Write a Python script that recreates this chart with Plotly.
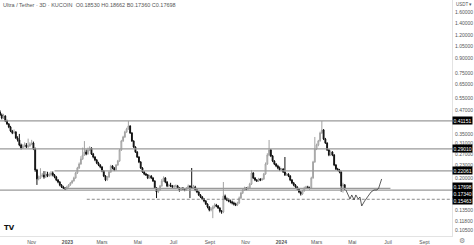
import math
import pandas as pd
import plotly.graph_objects as go

# ---------------- data ----------------
first_date = "2022-09-08"
open_first = 0.4600
closes = [
    0.4435, 0.4272, 0.4380, 0.4115, 0.3963, 0.3817, 0.3631, 0.3541, 0.3586, 0.3327,
    0.3245, 0.3048, 0.2936, 0.3010, 0.3048, 0.2973, 0.3010, 0.3086, 0.3125, 0.2899,
    0.2230, 0.1993, 0.2018, 0.2069, 0.2095, 0.2043, 0.2121, 0.2069, 0.2095, 0.2148,
    0.2095, 0.2043, 0.1968, 0.1919, 0.1849, 0.1803, 0.1781, 0.1759, 0.1803, 0.1849,
    0.1896, 0.1944, 0.2018, 0.2148, 0.2286, 0.2403, 0.2559, 0.2690, 0.2793, 0.2724,
    0.2863, 0.2936, 0.2724, 0.2623, 0.2527, 0.2434, 0.2374, 0.2315, 0.2202, 0.2069,
    0.1968, 0.2043, 0.2175, 0.2344, 0.2286, 0.2230, 0.2374, 0.2495, 0.2863, 0.3204,
    0.3369, 0.3586, 0.3723, 0.3865, 0.3541, 0.3204, 0.2973, 0.2793, 0.2623, 0.2464,
    0.2286, 0.2175, 0.2121, 0.2095, 0.2018, 0.2069, 0.2018, 0.1944, 0.1781, 0.1694,
    0.1737, 0.1826, 0.1944, 0.2018, 0.1919, 0.1826, 0.1849, 0.1826, 0.1803, 0.1826,
    0.1826, 0.1781, 0.1737, 0.1781, 0.1759, 0.1737, 0.1781, 0.1826, 0.1803, 0.1781,
    0.1803, 0.1737, 0.1694, 0.1632, 0.1591, 0.1552, 0.1514, 0.1458, 0.1404, 0.1353,
    0.1370, 0.1404, 0.1440, 0.1422, 0.1387, 0.1336, 0.1319, 0.1611, 0.1552, 0.1533,
    0.1514, 0.1495, 0.1476, 0.1458, 0.1440, 0.1476, 0.1572, 0.1673, 0.1737, 0.1781,
    0.1759, 0.1781, 0.1872, 0.2148, 0.2018, 0.1968, 0.1944, 0.1993, 0.1968, 0.1993,
    0.2121, 0.2403, 0.2690, 0.2863, 0.2656, 0.2495, 0.2403, 0.2344, 0.2286, 0.2230,
    0.2258, 0.2175, 0.2095, 0.2121, 0.2069, 0.1968, 0.1896, 0.1849, 0.1803, 0.1759,
    0.1694, 0.1652, 0.1715, 0.1781, 0.1803, 0.1781, 0.1781, 0.2018, 0.2464, 0.2899,
    0.3048, 0.3204, 0.3541, 0.3677, 0.3285, 0.3125, 0.2863, 0.2690, 0.2793, 0.2690,
    0.2374, 0.2258, 0.2230, 0.2175, 0.1826, 0.1853, 0.17698,
]
highs = [
    0.4700, 0.4520, 0.4500, 0.4420, 0.4180, 0.4010, 0.3870, 0.3680, 0.3700, 0.3620,
    0.3400, 0.3500, 0.3100, 0.3080, 0.3150, 0.3120, 0.3300, 0.3150, 0.3250, 0.3180,
    0.2950, 0.2260, 0.2080, 0.2280, 0.2150, 0.2200, 0.2200, 0.2180, 0.2160, 0.2200,
    0.2190, 0.2120, 0.2070, 0.1990, 0.1940, 0.1870, 0.1830, 0.1800, 0.1830, 0.1870,
    0.1920, 0.1970, 0.2050, 0.2180, 0.2320, 0.2450, 0.2650, 0.2950, 0.3200, 0.2880,
    0.2950, 0.3000, 0.2960, 0.2760, 0.2650, 0.2560, 0.2470, 0.2400, 0.2340, 0.2230,
    0.2090, 0.2070, 0.2200, 0.2380, 0.2370, 0.2310, 0.2400, 0.2530, 0.2900, 0.3250,
    0.3420, 0.3640, 0.3780, 0.4115, 0.3900, 0.3580, 0.3230, 0.3000, 0.2820, 0.2650,
    0.2490, 0.2310, 0.2200, 0.2150, 0.2120, 0.2100, 0.2090, 0.2040, 0.1960, 0.1800,
    0.1770, 0.1850, 0.1990, 0.2060, 0.2040, 0.1940, 0.1880, 0.1900, 0.1850, 0.1850,
    0.1860, 0.1850, 0.1800, 0.1800, 0.1800, 0.1780, 0.1800, 0.1860, 0.1840, 0.2286,
    0.1850, 0.1830, 0.1760, 0.1710, 0.1650, 0.1610, 0.1570, 0.1530, 0.1470, 0.1420,
    0.1400, 0.1430, 0.1470, 0.1460, 0.1440, 0.1400, 0.1350, 0.1919, 0.1640, 0.1580,
    0.1560, 0.1540, 0.1520, 0.1500, 0.1480, 0.1500, 0.1600, 0.1700, 0.1770, 0.1810,
    0.1800, 0.1820, 0.1900, 0.2230, 0.2170, 0.2040, 0.1990, 0.2020, 0.2010, 0.2020,
    0.2150, 0.2450, 0.2750, 0.3245, 0.2900, 0.2690, 0.2520, 0.2430, 0.2380, 0.2330,
    0.2290, 0.2280, 0.2623, 0.2150, 0.2140, 0.2090, 0.1990, 0.1920, 0.1870, 0.1820,
    0.1780, 0.1710, 0.1740, 0.1810, 0.1830, 0.1830, 0.1810, 0.2050, 0.2500, 0.3369,
    0.3100, 0.3250, 0.3600, 0.4115, 0.3720, 0.3330, 0.3150, 0.2900, 0.2850, 0.2820,
    0.2720, 0.2400, 0.2290, 0.2260, 0.2190, 0.1900, 0.18662,
]
lows = [
    0.4380, 0.4200, 0.4220, 0.4060, 0.3920, 0.3760, 0.3580, 0.3490, 0.3500, 0.3290,
    0.3180, 0.3000, 0.2880, 0.2900, 0.2960, 0.2930, 0.2940, 0.2980, 0.3040, 0.2860,
    0.2180, 0.1850, 0.1960, 0.1990, 0.2040, 0.2000, 0.2020, 0.2040, 0.2050, 0.2060,
    0.2060, 0.2010, 0.1940, 0.1890, 0.1820, 0.1780, 0.1760, 0.1740, 0.1745, 0.1790,
    0.1830, 0.1880, 0.1930, 0.2000, 0.2120, 0.2260, 0.2380, 0.2530, 0.2660, 0.2680,
    0.2700, 0.2820, 0.2690, 0.2580, 0.2490, 0.2400, 0.2340, 0.2280, 0.2170, 0.2040,
    0.1940, 0.1950, 0.2020, 0.2150, 0.2250, 0.2200, 0.2210, 0.2350, 0.2470, 0.2830,
    0.3170, 0.3330, 0.3550, 0.3690, 0.3500, 0.3170, 0.2940, 0.2760, 0.2590, 0.2430,
    0.2260, 0.2150, 0.2090, 0.2070, 0.1990, 0.2000, 0.1990, 0.1920, 0.1760, 0.1570,
    0.1670, 0.1720, 0.1810, 0.1930, 0.1890, 0.1800, 0.1800, 0.1800, 0.1780, 0.1780,
    0.1790, 0.1760, 0.1700, 0.1720, 0.1740, 0.1710, 0.1720, 0.1770, 0.1570, 0.1760,
    0.1770, 0.1710, 0.1670, 0.1610, 0.1570, 0.1530, 0.1490, 0.1440, 0.1380, 0.1330,
    0.1330, 0.1221, 0.1380, 0.1400, 0.1370, 0.1310, 0.1290, 0.1300, 0.1530, 0.1510,
    0.1490, 0.1470, 0.1450, 0.1430, 0.1420, 0.1420, 0.1460, 0.1550, 0.1650, 0.1720,
    0.1730, 0.1740, 0.1760, 0.1850, 0.1990, 0.1940, 0.1920, 0.1920, 0.1940, 0.1950,
    0.1970, 0.2100, 0.2380, 0.2650, 0.2620, 0.2460, 0.2370, 0.2310, 0.2250, 0.2200,
    0.2200, 0.2150, 0.2070, 0.2070, 0.2040, 0.1940, 0.1870, 0.1820, 0.1780, 0.1730,
    0.1670, 0.1620, 0.1630, 0.1700, 0.1760, 0.1760, 0.1750, 0.1760, 0.2000, 0.2440,
    0.2860, 0.3000, 0.3180, 0.3500, 0.3240, 0.3090, 0.2830, 0.2650, 0.2660, 0.2650,
    0.2340, 0.2230, 0.2200, 0.2140, 0.1700, 0.1680, 0.17360,
]

# projected path drawn after the last candle
proj_dates = ["2024-04-20", "2024-04-27", "2024-04-30", "2024-05-04", "2024-05-07",
              "2024-05-11", "2024-05-14", "2024-05-17", "2024-05-22", "2024-05-28",
              "2024-06-02", "2024-06-07", "2024-06-12", "2024-06-15", "2024-06-20"]
proj_values = [0.1737, 0.1552, 0.1632, 0.1533, 0.1632, 0.1552, 0.1591, 0.1422,
               0.1514, 0.1611, 0.1694, 0.1737, 0.1737, 0.1781, 0.1993]

# horizontal levels: value, start date, end date
levels = [
    (0.41151, "2022-09-01", "2024-10-20"),
    (0.29010, "2022-09-01", "2024-10-20"),
    (0.22061, "2022-12-10", "2024-10-20"),
    (0.17340, "2022-09-01", "2024-10-20"),
    (0.17698, "2022-12-27", "2024-07-05"),
]
dashed_level = (0.15463, "2023-02-03", "2024-10-20")

y_ticks = [1.6, 1.4, 1.2, 1.05, 0.9, 0.75, 0.65, 0.55, 0.47, 0.35, 0.31, 0.27,
           0.20, 0.135, 0.118, 0.105]
y_tick_partial = 0.23  # label partly tucked above the 0.22061 badge
badge_values = [0.41151, 0.29010, 0.22061, 0.17698, 0.17340, 0.15463]

x_tick_dates = ["2022-11-01", "2023-01-01", "2023-03-01", "2023-05-01", "2023-07-01",
                "2023-09-01", "2023-11-01", "2024-01-01", "2024-03-01", "2024-05-01",
                "2024-07-01", "2024-09-01"]
x_tick_labels = ["Nov", "<b>2023</b>", "Mars", "Mai", "Juil", "Sept", "Nov",
                 "<b>2024</b>", "Mars", "Mai", "Juil", "Sept"]

title_text = "Ultra / Tether · 3D · KUCOIN  O0.18530 H0.18662 B0.17360 C0.17698"

# ---------------- figure ----------------
dates = pd.date_range(first_date, periods=len(closes), freq="3D")
opens = [open_first] + closes[:-1]

fig = go.Figure()

for val, d0, d1 in levels:
    fig.add_trace(go.Scatter(x=[d0, d1], y=[val, val], mode="lines",
                             line=dict(color="#9a9a9a", width=1.3),
                             hoverinfo="skip", showlegend=False))
fig.add_trace(go.Scatter(x=[dashed_level[1], dashed_level[2]],
                         y=[dashed_level[0], dashed_level[0]], mode="lines",
                         line=dict(color="#8a8a8a", width=1, dash="3px,2px"),
                         hoverinfo="skip", showlegend=False))

fig.add_trace(go.Candlestick(
    x=dates, open=opens, high=highs, low=lows, close=closes,
    increasing=dict(line=dict(color="#a3a3a3", width=1), fillcolor="#ededed"),
    decreasing=dict(line=dict(color="#111111", width=1), fillcolor="#111111"),
    whiskerwidth=0, showlegend=False, hoverinfo="skip"))

fig.add_trace(go.Scatter(x=proj_dates, y=proj_values, mode="lines",
                         line=dict(color="#333333", width=0.8),
                         hoverinfo="skip", showlegend=False))

annotations = [
    dict(text=title_text, xref="paper", yref="paper", x=0.002, y=1.0,
         xanchor="left", yanchor="top", showarrow=False,
         font=dict(size=5.5, color="#555555", family="Liberation Sans")),
    dict(text="USDT ▾", xref="paper", yref="paper", x=1.0, y=1.0, xshift=2,
         xanchor="left", yanchor="top", showarrow=False,
         font=dict(size=4.5, color="#555555", family="Liberation Sans")),
    dict(text="<b>TV</b>", xref="paper", yref="paper", x=0.004, y=0.035,
         xanchor="left", yanchor="middle", showarrow=False,
         font=dict(size=7, color="#111111", family="DejaVu Sans")),
    dict(text="⚙", xref="paper", yref="paper", x=1.0, y=0, xshift=10, yshift=-5,
         xanchor="center", yanchor="middle", showarrow=False,
         font=dict(size=7, color="#888888", family="DejaVu Sans")),
    dict(text=f"{y_tick_partial:.5f}", xref="paper", yref="y", x=1.0,
         y=math.log10(y_tick_partial), xshift=1, yshift=3, xanchor="left",
         yanchor="middle", showarrow=False,
         font=dict(size=5, color="#555555", family="Liberation Sans")),
]
badge_shift = {0.17698: 1.5, 0.17340: -3.5, 0.15463: -1}
for v in badge_values:
    annotations.append(dict(
        text=f"{v:.5f}", xref="paper", yref="y", x=1.0, y=math.log10(v),
        xanchor="left", yanchor="middle", showarrow=False, xshift=0,
        yshift=badge_shift.get(v, 0), bgcolor="#000000", borderpad=0.5,
        font=dict(size=5, color="#ffffff", family="Liberation Sans")))

fig.update_layout(
    width=474, height=245,
    margin=dict(l=0, r=22, t=0, b=9),
    paper_bgcolor="#ffffff", plot_bgcolor="#ffffff",
    showlegend=False,
    annotations=annotations,
    xaxis=dict(type="date", range=["2022-09-08", "2024-10-18"],
               rangeslider=dict(visible=False),
               tickmode="array", tickvals=x_tick_dates, ticktext=x_tick_labels,
               tickfont=dict(size=5, color="#555555", family="Liberation Sans"),
               showgrid=False, zeroline=False, ticks="",
               showline=True, linecolor="#e3e3e3", linewidth=1,
               ticklabelstandoff=1),
    yaxis=dict(type="log", side="right",
               range=[math.log10(0.0977), math.log10(1.867)],
               tickmode="array", tickvals=y_ticks,
               ticktext=[f"{v:.5f}" for v in y_ticks],
               tickfont=dict(size=5, color="#555555", family="Liberation Sans"),
               showgrid=False, zeroline=False, ticks="",
               showline=True, linecolor="#e3e3e3", linewidth=1,
               ticklabelstandoff=1),
)

fig.write_html("out.html")
